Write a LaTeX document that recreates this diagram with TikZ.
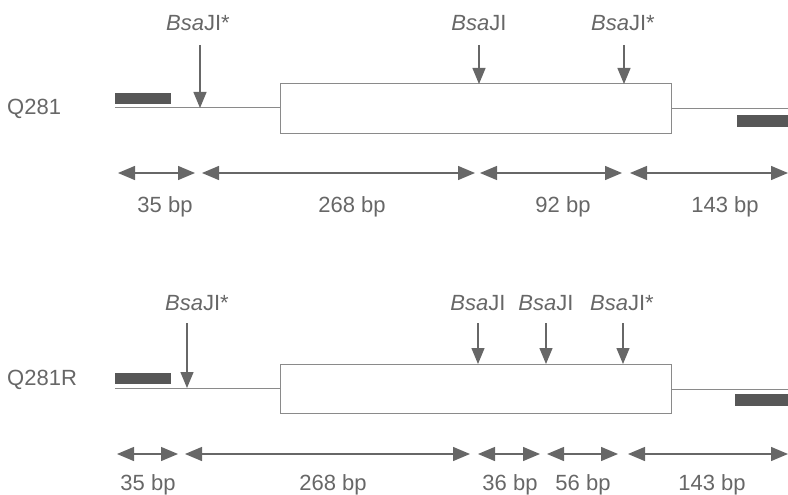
\documentclass[tikz,border=0pt]{standalone}
\usepackage{fontspec}
\setmainfont{Liberation Sans}
\usetikzlibrary{arrows.meta}
\definecolor{ink}{HTML}{676767}
\definecolor{bar}{HTML}{575757}
\definecolor{thin}{HTML}{8A8A8A}
\tikzset{
  lbl/.style={text=ink, font=\fontsize{22}{25}\selectfont, inner sep=0pt, anchor=base},
  site/.style={draw=ink, line width=1.3pt, -{Triangle[length=16pt,width=13pt]}},
  span/.style={draw=ink, line width=1.3pt,
    {Triangle[length=17pt,width=14pt]}-{Triangle[length=17pt,width=14pt]}},
  dna/.style={draw=thin, line width=1pt},
  exon/.style={draw=thin, line width=1pt, fill=white, inner sep=0pt, outer sep=0pt,
    minimum width=391pt, minimum height=49pt, anchor=north west},
  primer/.style={fill=bar, draw=none},
}
\newcommand\bsaj{\textit{Bsa}JI}
\begin{document}
\begin{tikzpicture}[x=1pt,y=-1pt]
\useasboundingbox (0,0) rectangle (788,495);

% ---------------- Q281 ----------------
\node[lbl, anchor=base west] (nameA) at (7,114) {Q281};
\draw[dna] (115,108) -- (280,108);
\draw[dna] (671,109) -- (788,109);
\node[exon] (boxA) at (280,84) {};
\fill[primer] (115,93) rectangle (171,104);
\fill[primer] (737,115) rectangle (788,127);

% restriction sites
\node[lbl] (sA1) at (198,31) {\bsaj*};
\node[lbl] (sA2) at (479,31) {\bsaj};
\node[lbl] (sA3) at (623,31) {\bsaj*};
\coordinate (tA1) at (200,45);  \coordinate (hA1) at (200,108);
\coordinate (tA2) at (479,45);  \coordinate (hA2) at (479,84);
\coordinate (tA3) at (624,45);  \coordinate (hA3) at (624,84);
\draw[site] (tA1) -- (hA1);
\draw[site] (tA2) -- (hA2);
\draw[site] (tA3) -- (hA3);

% fragment lengths
\coordinate (dA0) at (118,173); \coordinate (dA1) at (195,173);
\coordinate (dA2) at (202,173); \coordinate (dA3) at (475,173);
\coordinate (dA4) at (480,173); \coordinate (dA5) at (622,173);
\coordinate (dA6) at (630,173); \coordinate (dA7) at (788,173);
\draw[span] (dA0) -- (dA1);
\draw[span] (dA2) -- (dA3);
\draw[span] (dA4) -- (dA5);
\draw[span] (dA6) -- (dA7);
\node[lbl] (fA1) at (165,212) {35 bp};
\node[lbl] (fA2) at (352,212) {268 bp};
\node[lbl] (fA3) at (563,212) {92 bp};
\node[lbl] (fA4) at (725,212) {143 bp};

% ---------------- Q281R ----------------
\node[lbl, anchor=base west] (nameB) at (7,385) {Q281R};
\draw[dna] (115,388) -- (280,388);
\draw[dna] (671,389) -- (788,389);
\node[exon] (boxB) at (280,364) {};
\fill[primer] (115,373) rectangle (171,384);
\fill[primer] (735,394) rectangle (788,406);

% restriction sites
\node[lbl] (sB1) at (197,310) {\bsaj*};
\node[lbl] (sB2) at (478,310) {\bsaj};
\node[lbl] (sB3) at (546,310) {\bsaj};
\node[lbl] (sB4) at (622,310) {\bsaj*};
\coordinate (tB1) at (187,323);  \coordinate (hB1) at (187,388);
\coordinate (tB2) at (478,323);  \coordinate (hB2) at (478,364);
\coordinate (tB3) at (546,323);  \coordinate (hB3) at (546,364);
\coordinate (tB4) at (623,323);  \coordinate (hB4) at (623,364);
\draw[site] (tB1) -- (hB1);
\draw[site] (tB2) -- (hB2);
\draw[site] (tB3) -- (hB3);
\draw[site] (tB4) -- (hB4);

% fragment lengths
\coordinate (dB0) at (117,454); \coordinate (dB1) at (178,454);
\coordinate (dB2) at (185,454); \coordinate (dB3) at (470,454);
\coordinate (dB4) at (478,454); \coordinate (dB5) at (540,454);
\coordinate (dB6) at (547,454); \coordinate (dB7) at (618,454);
\coordinate (dB8) at (628,454); \coordinate (dB9) at (788,454);
\draw[span] (dB0) -- (dB1);
\draw[span] (dB2) -- (dB3);
\draw[span] (dB4) -- (dB5);
\draw[span] (dB6) -- (dB7);
\draw[span] (dB8) -- (dB9);
\node[lbl] (fB1) at (148,490) {35 bp};
\node[lbl] (fB2) at (333,490) {268 bp};
\node[lbl] (fB3) at (510,490) {36 bp};
\node[lbl] (fB4) at (583,490) {56 bp};
\node[lbl] (fB5) at (712,490) {143 bp};
\end{tikzpicture}
\end{document}
